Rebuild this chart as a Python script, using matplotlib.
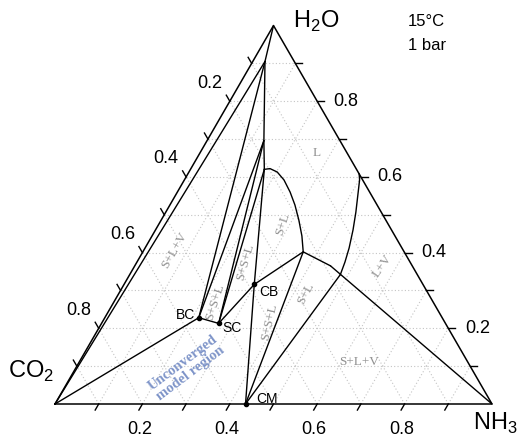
import numpy as np
import matplotlib.pyplot as plt

plt.rcParams['font.family'] = ['Liberation Sans', 'DejaVu Sans']
plt.rcParams['mathtext.fontset'] = 'custom'
plt.rcParams['mathtext.rm'] = 'Liberation Sans'

# mass fractions given as (NH3, H2O); CO2 is the remainder
solid_names = ['BC', 'SC', 'CB', 'CM']
solid_nh3 = [0.215, 0.268, 0.298, 0.436]
solid_h2o = [0.228, 0.213, 0.316, 0.0]

# liquid invariant / corner points
p1 = (0.028, 0.905)
p2 = (0.130, 0.696)
p4 = (0.169, 0.620)
p5 = (0.367, 0.402)
pq = (0.448, 0.365)
p6 = (0.482, 0.342)

# liquid saturated with CB
cb_curve_nh3 = [0.169, 0.181, 0.202, 0.228, 0.258, 0.286, 0.315, 0.343, 0.367]
cb_curve_h2o = [0.620, 0.622, 0.613, 0.592, 0.560, 0.526, 0.486, 0.444, 0.402]

# L / L+V boundary
lv_nh3 = [0.482, 0.476, 0.467, 0.452, 0.435, 0.417, 0.401, 0.392]
lv_h2o = [0.342, 0.375, 0.412, 0.460, 0.507, 0.552, 0.592, 0.608]

grid_vals = [0.1, 0.2, 0.3, 0.4, 0.5, 0.6, 0.7, 0.8, 0.9]
label_vals = [0.2, 0.4, 0.6, 0.8]

# region labels: text, NH3, H2O, rotation
region_text = ['S+L+V', 'S+S+L', 'S+S+L', 'S+S+L', 'S+L', 'S+L', 'L+V', 'S+L+V', 'L']
region_nh3 = [0.072, 0.231, 0.247, 0.383, 0.283, 0.428, 0.567, 0.640, 0.267]
region_h2o = [0.405, 0.270, 0.376, 0.217, 0.475, 0.291, 0.365, 0.112, 0.663]
region_rot = [60, 72, 74, 77, 72, 62, 55, 0, 0]

S3 = np.sqrt(3) / 2
PX = 1 / 437  # one pixel in data units


def cart(nh3, h2o):
    nh3 = np.asarray(nh3, dtype=float)
    h2o = np.asarray(h2o, dtype=float)
    return nh3 + h2o / 2, h2o * S3


def seg(ax, a, b, **kw):
    x, y = cart([a[0], b[0]], [a[1], b[1]])
    ax.plot(x, y, color='black', lw=1.0, solid_capstyle='round', **kw)


fig = plt.figure(figsize=(5.22, 4.43), dpi=100)
ax = fig.add_axes([0, 0, 1, 1])
ax.set_xlim(-55 * PX, 467 * PX)
ax.set_ylim(-39 * PX, 404 * PX)
ax.axis('off')

CO2 = (0.0, 0.0)
NH3 = (1.0, 0.0)
H2O = (0.0, 1.0)

# dotted grid
for v in grid_vals:
    for a, b in [((0, v), (1 - v, v)), ((v, 0), (v, 1 - v)), ((1 - v, 0), (0, 1 - v))]:
        x, y = cart([a[0], b[0]], [a[1], b[1]])
        ax.plot(x, y, color='#c4c4c4', lw=0.8, ls=(0, (1, 2)), zorder=0)

# triangle frame
x, y = cart([0, 1, 0, 0], [0, 0, 1, 0])
ax.plot(x, y, color='black', lw=1.1, zorder=3)

# ticks and tick labels
tl = 0.016
for v in grid_vals:
    bx, by = cart(v, 0)
    ax.plot([bx, bx - 0.5 * tl], [by, by - S3 * tl], color='black', lw=1.0)
    rx, ry = cart(1 - v, v)
    ax.plot([rx, rx + tl], [ry, ry], color='black', lw=1.0)
    lx, ly = cart(0, 1 - v)
    ax.plot([lx, lx - 0.5 * tl], [ly, ly + S3 * tl], color='black', lw=1.0)
for v in label_vals:
    bx, by = cart(v, 0)
    ax.text(bx - 3 * PX, by - 26 * PX, f'{v:.1f}', ha='center', va='center', fontsize=13)
    rx, ry = cart(1 - v, v)
    ax.text(rx + 29 * PX, ry, f'{v:.1f}', ha='center', va='center', fontsize=13)
    lx, ly = cart(0, 1 - v)
    ax.text(lx - 20 * PX, ly + 18 * PX, f'{v:.1f}', ha='center', va='center', fontsize=13)

BC, SC, CB, CM = [(n, h) for n, h in zip(solid_nh3, solid_h2o)]

# phase boundaries
seg(ax, CO2, p1)
seg(ax, H2O, p1)
seg(ax, p1, p2)
seg(ax, p2, p4)
seg(ax, p4, CB)
seg(ax, p1, BC)
seg(ax, BC, p2)
seg(ax, SC, p2)
seg(ax, SC, p4)
seg(ax, CO2, BC)
seg(ax, BC, SC)
seg(ax, SC, CB)
seg(ax, CB, CM)
seg(ax, CB, p5)
seg(ax, CM, p5)
seg(ax, CM, p6)
seg(ax, p5, pq)
seg(ax, pq, NH3)

x, y = cart(cb_curve_nh3, cb_curve_h2o)
ax.plot(x, y, color='black', lw=1.0)
x, y = cart(lv_nh3, lv_h2o)
ax.plot(x, y, color='black', lw=1.0)

# solid points
sx, sy = cart(solid_nh3, solid_h2o)
ax.plot(sx, sy, 'o', color='black', ms=3, zorder=4)
name_off = {'BC': (-4, 3, 'right'), 'SC': (4, -5, 'left'), 'CB': (5, -8, 'left'), 'CM': (11, 5, 'left')}
for nm, x0, y0 in zip(solid_names, sx, sy):
    dx, dy, ha = name_off[nm]
    ax.text(x0 + dx * PX, y0 + dy * PX, nm, ha=ha, va='center', fontsize=10)

# region labels
for t, n, h, r in zip(region_text, region_nh3, region_h2o, region_rot):
    x0, y0 = cart(n, h)
    ax.text(x0, y0, t, ha='center', va='center', rotation=r, fontsize=9.5,
            family='Liberation Serif', color='#909090')

ux, uy = cart(0.254, 0.094)
ax.text(ux, uy, 'Unconverged\nmodel region', ha='center', va='center', rotation=37,
        fontsize=10.5, family='Liberation Serif', fontweight='bold', color='#7f95c9',
        linespacing=1.0)

# vertex labels and conditions
ax.text((293 - 55) * PX, (404 - 28) * PX, r'H$_2$O', fontsize=17, ha='left', va='baseline')
ax.text((8 - 55) * PX, (404 - 378) * PX, r'CO$_2$', fontsize=17, ha='left', va='baseline')
ax.text((473 - 55) * PX, (404 - 430) * PX, r'NH$_3$', fontsize=17, ha='left', va='baseline')
ax.text((408 - 55) * PX, (404 - 26) * PX, '15°C', fontsize=12, ha='left', va='baseline')
ax.text((408 - 55) * PX, (404 - 50) * PX, '1 bar', fontsize=12, ha='left', va='baseline')

fig.savefig('out.png', dpi=100)
